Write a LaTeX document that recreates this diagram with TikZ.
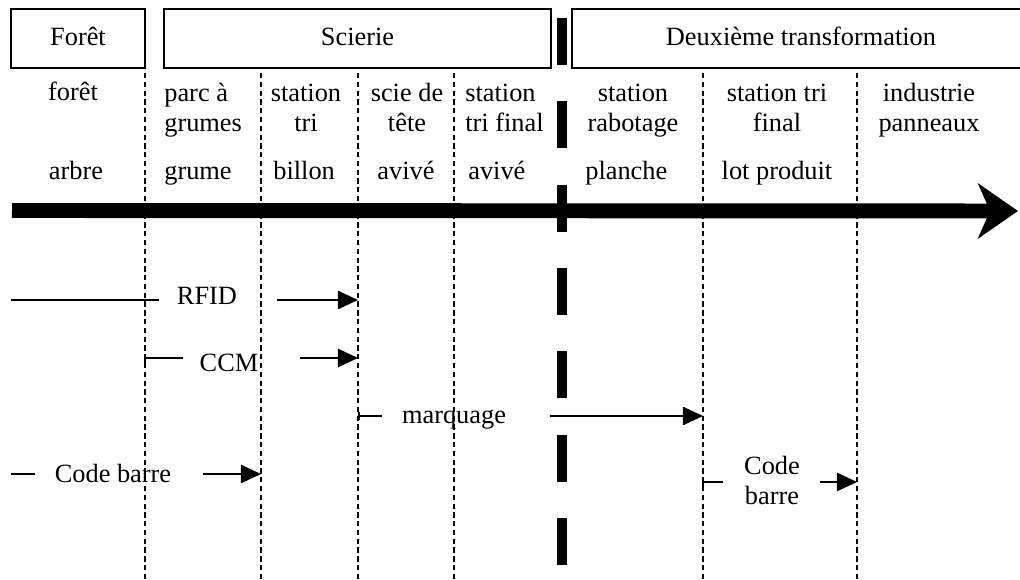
\documentclass[tikz,border=0pt]{standalone}
\usepackage{fontspec}
\setmainfont{Liberation Serif}
\usetikzlibrary{arrows.meta}
\begin{document}
\begin{tikzpicture}[x=0.2mm,y=-0.2mm,
  txt/.style={inner sep=0pt, font=\fontsize{15}{17.6}\selectfont},
  box/.style={draw, line width=1.1pt, inner sep=0pt, font=\fontsize{15}{17.6}\selectfont,
              text height=10.4pt, text depth=2pt, minimum height=11.8mm},
  sepline/.style={line width=0.8pt, dash pattern=on 3pt off 2pt},
  bigsep/.style={line width=6.2pt, dash pattern=on 26.64pt off 20.8pt},
  link/.style={line width=0.9pt},
  arr/.style={link, -{Triangle[length=11.5pt,width=10.5pt]}},
  tick/.style={link, {Bar[width=4.5pt]}-},
  flow/.style={line width=8.5pt, -{Stealth[length=22.7pt,width=31.2pt,inset=6.8pt]}}
]
\clip (0,0) rectangle (1020,580);
\fill[white] (0,0) rectangle (1020,580);

% header boxes
\node[box, minimum width=26.8mm] (bforet) at (78,38.5) {Forêt};
\node[box, minimum width=77.4mm] (bscierie) at (357.5,38.5) {Scierie};
\node[box, minimum width=91.6mm] (bdeux) at (801,38.5) {Deuxième transformation};

% separators
\foreach \x in {145,261,358,454,703,857}
  \draw[sepline] (\x,73) -- (\x,580);

% station / product texts
\node[txt, anchor=base] (c0a) at (73,101) {forêt};
\node[txt, anchor=base] (c0b) at (76,180) {arbre};
\node[txt, anchor=base west, align=left] (c1a) at (164,132) {parc à\\grumes};
\node[txt, anchor=base west] (c1b) at (164,180) {grume};
\node[txt, anchor=base, align=center] (c2a) at (306,132) {station\\tri};
\node[txt, anchor=base west] (c2b) at (273,180) {billon};
\node[txt, anchor=base, align=center] (c3a) at (407,132) {scie de\\tête};
\node[txt, anchor=base] (c3b) at (406,180) {avivé};
\node[txt, anchor=base west, align=left] (c4a) at (465,132) {station\\tri final};
\node[txt, anchor=base west] (c4b) at (468,180) {avivé};
\node[txt, anchor=base, align=center] (c5a) at (633,132) {station\\rabotage};
\node[txt, anchor=base west] (c5b) at (585,180) {planche};
\node[txt, anchor=base, align=center] (c6a) at (777,132) {station tri\\final};
\node[txt, anchor=base] (c6b) at (777,180) {lot produit};
\node[txt, anchor=base, align=center] (c7a) at (929,132) {industrie\\panneaux};

% main flow arrow
\coordinate (flowS) at (12,210.5);
\coordinate (flowE) at (1018,211);
\draw[flow] (flowS) -- (flowE);

% thick dashed border
\coordinate (bigT) at (562,18);
\coordinate (bigB) at (562,567);
\draw[bigsep] (bigT) -- (bigB);

% RFID
\coordinate (rfidS) at (11,300);
\coordinate (rfidA) at (159,300);
\node[txt, anchor=base] (rfid) at (207,305) {RFID};
\coordinate (rfidB) at (277,300);
\coordinate (rfidE) at (358,300);
\draw[link] (rfidS) -- (rfidA);
\draw[arr] (rfidB) -- (rfidE);

% CCM
\coordinate (ccmS) at (145,358);
\coordinate (ccmA) at (183,358);
\node[txt, anchor=base] (ccm) at (229,372) {CCM};
\coordinate (ccmB) at (300,358);
\coordinate (ccmE) at (358,358);
\draw[link] (ccmA) -- (ccmS) -- ++(0,9);
\draw[arr] (ccmB) -- (ccmE);

% marquage
\coordinate (marS) at (358,416);
\coordinate (marA) at (382,416);
\node[txt, anchor=base] (mar) at (454,424) {marquage};
\coordinate (marB) at (550,416);
\coordinate (marE) at (703,416);
\draw[tick] (marS) -- (marA);
\draw[arr] (marB) -- (marE);

% Code barre 1
\coordinate (cb1S) at (11,474);
\coordinate (cb1A) at (35,474);
\node[txt, anchor=base] (cb1) at (113,483) {Code barre};
\coordinate (cb1B) at (203,474);
\coordinate (cb1E) at (261,474);
\draw[link] (cb1S) -- (cb1A);
\draw[arr] (cb1B) -- (cb1E);

% Code barre 2
\coordinate (cb2S) at (703,482);
\coordinate (cb2A) at (723,482);
\node[txt, anchor=base, align=center] (cb2) at (772,505) {Code\\barre};
\coordinate (cb2B) at (820,482);
\coordinate (cb2E) at (857,482);
\draw[link] (cb2A) -- (cb2S) -- ++(0,8);
\draw[arr] (cb2B) -- (cb2E);
\end{tikzpicture}
\end{document}
